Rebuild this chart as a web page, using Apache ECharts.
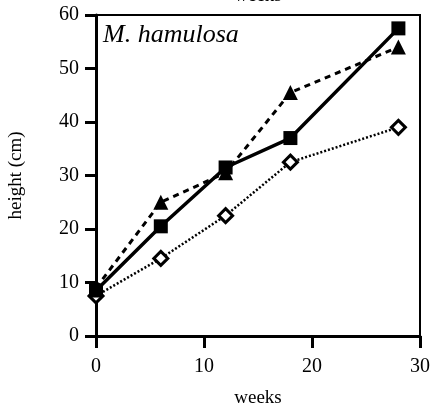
<!DOCTYPE html>
<html>
<head>
<meta charset="utf-8">
<script src="https://cdn.jsdelivr.net/npm/echarts@6/dist/echarts.min.js"></script>
<style>html,body{margin:0;padding:0;background:#fff;}#c{width:434px;height:408px;}</style>
</head>
<body>
<div id="c"></div>
<script>
var weeks = [0, 6, 12, 18, 28];
var squareVals = [8.5, 20.5, 31.5, 37, 57.5];
var triangleVals = [9, 25, 30.5, 45.5, 54];
var diamondVals = [7.5, 14.5, 22.5, 32.5, 39];
var xTicks = [0, 10, 20, 30];
var yTicks = [0, 10, 20, 30, 40, 50, 60];

function pairs(xs, ys) { return xs.map(function (x, i) { return [x, ys[i]]; }); }

var font = '"Liberation Serif", "DejaVu Serif", serif';
var chart = echarts.init(document.getElementById('c'));
chart.setOption({
  animation: false,
  backgroundColor: '#fff',
  grid: { left: 96, right: 14, top: 15, bottom: 72, outerBoundsMode: 'none', containLabel: false, show: true, borderColor: '#000', borderWidth: 2 },
  graphic: [
    { type: 'text', position: [258, 6], style: { text: 'weeks', font: '19px ' + font, fill: '#000', textAlign: 'center', textVerticalAlign: 'bottom' } },
    { type: 'text', position: [103, 35], style: { text: 'M. hamulosa', font: 'italic 26px ' + font, fill: '#000', textVerticalAlign: 'middle' } }
  ],
  xAxis: {
    type: 'value', min: 0, max: 30, interval: 10,
    name: 'weeks', nameLocation: 'middle', nameGap: 53,
    nameTextStyle: { fontFamily: font, fontSize: 19, color: '#000' },
    axisLine: { show: true, onZero: false, lineStyle: { color: '#000', width: 3 } },
    axisTick: { show: true, length: 12, lineStyle: { color: '#000', width: 3 } },
    axisLabel: { margin: 21, fontFamily: font, fontSize: 20, color: '#000', formatter: function (v) { return xTicks.indexOf(v) >= 0 ? String(v) : ''; } },
    splitLine: { show: false }
  },
  yAxis: {
    type: 'value', min: 0, max: 60, interval: 10,
    name: 'height (cm)', nameLocation: 'middle', nameGap: 70, nameRotate: 90,
    nameTextStyle: { fontFamily: font, fontSize: 19, color: '#000' },
    axisLine: { show: true, onZero: false, lineStyle: { color: '#000', width: 3 } },
    axisTick: { show: true, length: 11, lineStyle: { color: '#000', width: 3 } },
    axisLabel: { margin: 17, fontFamily: font, fontSize: 20, color: '#000', formatter: function (v) { return yTicks.indexOf(v) >= 0 ? String(v) : ''; } },
    splitLine: { show: false }
  },
  series: [
    {
      type: 'line', data: pairs(weeks, diamondVals), symbol: 'diamond', symbolSize: 14,
      itemStyle: { color: '#fff', borderColor: '#000', borderWidth: 3 },
      lineStyle: { color: '#000', width: 2.5, type: [2, 2] }, z: 2
    },
    {
      type: 'line', data: pairs(weeks, triangleVals), symbol: 'triangle', symbolSize: 15,
      itemStyle: { color: '#000' },
      lineStyle: { color: '#000', width: 3, type: [6, 5] }, z: 3
    },
    {
      type: 'line', data: pairs(weeks, squareVals), symbol: 'rect', symbolSize: 14,
      itemStyle: { color: '#000' },
      lineStyle: { color: '#000', width: 3.5, type: 'solid' }, z: 4
    }
  ]
});
</script>
</body>
</html>
